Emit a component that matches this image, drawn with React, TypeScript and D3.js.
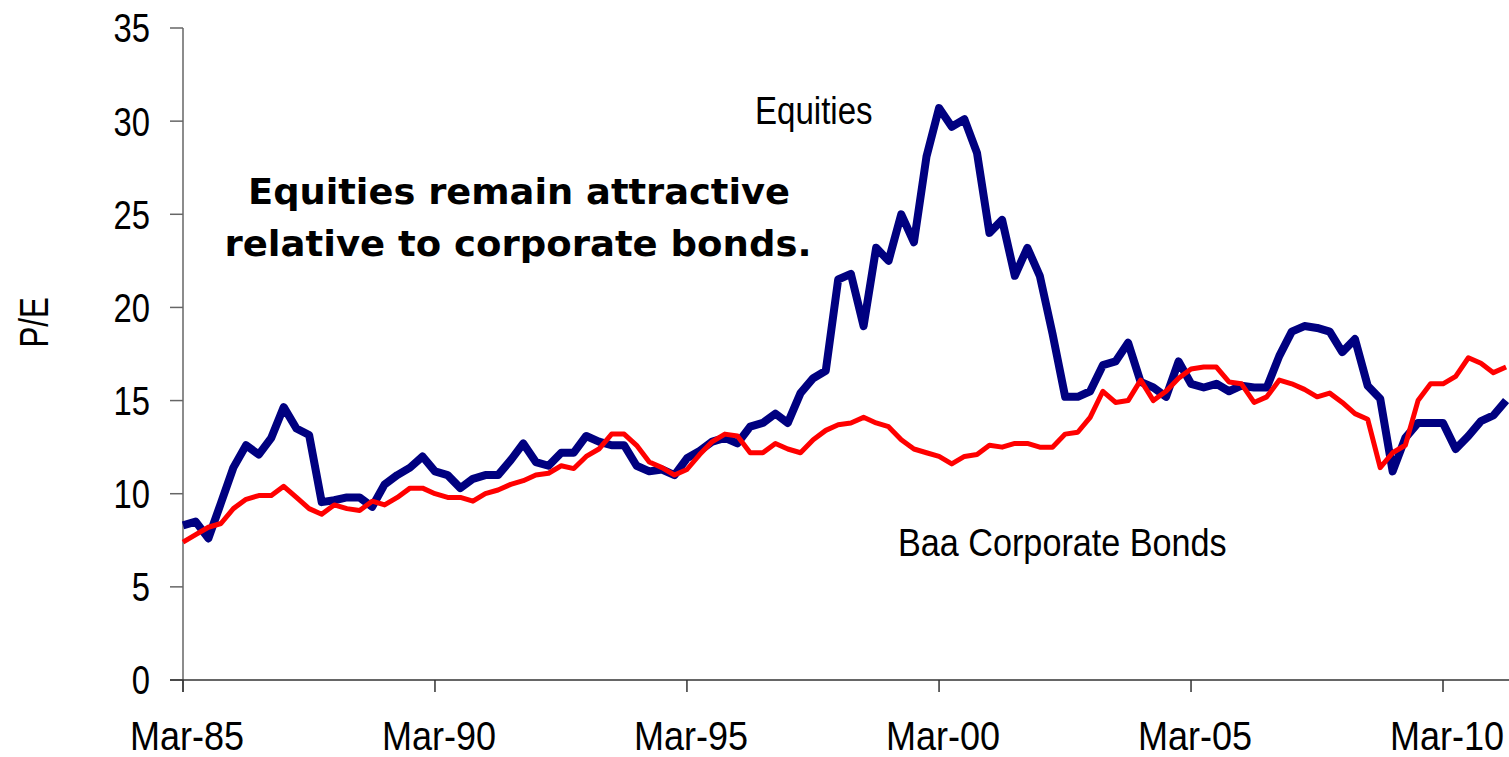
import React, { useEffect, useRef } from 'react';
import * as d3 from 'd3';

// quarterly P/E from Mar-85
const equities = [
  8.3, 8.5, 7.6, 9.5, 11.4, 12.6, 12.1, 13.0, 14.65, 13.5,
  13.15, 9.55, 9.65, 9.8, 9.8, 9.3, 10.5, 11.0, 11.4, 12.0,
  11.2, 11.0, 10.3, 10.8, 11.0, 11.0, 11.8, 12.7, 11.7, 11.5,
  12.2, 12.2, 13.1, 12.8, 12.6, 12.6, 11.5, 11.2, 11.3, 11.0,
  11.9, 12.3, 12.8, 13.0, 12.7, 13.6, 13.8, 14.3, 13.8, 15.4,
  16.2, 16.6, 21.5, 21.8, 19.0, 23.2, 22.5, 25.0, 23.5, 28.1,
  30.7, 29.7, 30.1, 28.3, 24.0, 24.7, 21.7, 23.2, 21.7, 18.6,
  15.2, 15.2, 15.5, 16.9, 17.1, 18.1, 16.0, 15.7, 15.2, 17.1,
  15.9, 15.7, 15.9, 15.5, 15.8, 15.7, 15.7, 17.4, 18.7, 19.0,
  18.9, 18.7, 17.6, 18.3, 15.8, 15.1, 11.2, 13.0, 13.8, 13.8,
  13.8, 12.4, 13.1, 13.9, 14.2, 15.0,
];

const bonds = [
  7.4, 7.8, 8.2, 8.4, 9.2, 9.7, 9.9, 9.9, 10.4, 9.8,
  9.2, 8.9, 9.4, 9.2, 9.1, 9.6, 9.4, 9.8, 10.3, 10.3,
  10.0, 9.8, 9.8, 9.6, 10.0, 10.2, 10.5, 10.7, 11.0, 11.1,
  11.5, 11.35, 12.0, 12.4, 13.2, 13.2, 12.6, 11.7, 11.4, 11.0,
  11.3, 12.1, 12.8, 13.2, 13.1, 12.2, 12.2, 12.7, 12.4, 12.2,
  12.9, 13.4, 13.7, 13.8, 14.1, 13.8, 13.6, 12.9, 12.4, 12.2,
  12.0, 11.6, 12.0, 12.1, 12.6, 12.5, 12.7, 12.7, 12.5, 12.5,
  13.2, 13.3, 14.1, 15.5, 14.9, 15.0, 16.1, 15.0, 15.5, 16.2,
  16.7, 16.8, 16.8, 16.0, 15.9, 14.9, 15.2, 16.1, 15.9, 15.6,
  15.2, 15.4, 14.9, 14.3, 14.0, 11.4, 12.2, 12.6, 15.0, 15.9,
  15.9, 16.3, 17.3, 17.0, 16.5, 16.8,
];

const yTicks = [0, 5, 10, 15, 20, 25, 30, 35];
const xTickYears = [1985, 1990, 1995, 2000, 2005, 2010];

// no narrow font installed, so squeeze Liberation Sans horizontally
const labelFont = '"Liberation Sans Narrow", "Arial Narrow", "Liberation Sans", Arial, sans-serif';

const App = () => {
  const ref = useRef(null);

  useEffect(() => {
    document.body.style.margin = '0';
    const width = 1509;
    const height = 757;

    const dates = equities.map((_, i) => new Date(1985, 2 + i * 3, 1));

    const x = d3.scaleTime()
      .domain([new Date(1985, 2, 1), new Date(2010, 2, 1)])
      .range([183, 1443]);
    const y = d3.scaleLinear().domain([0, 35]).range([680, 28]);

    const svg = d3.create('svg')
      .attr('width', width)
      .attr('height', height)
      .style('display', 'block')
      .style('background', '#fff');

    // y axis
    svg.append('line')
      .attr('x1', 183).attr('x2', 183)
      .attr('y1', y(35)).attr('y2', 692)
      .attr('stroke', '#666').attr('stroke-width', 1.5);
    svg.append('g').selectAll('line')
      .data(yTicks)
      .join('line')
      .attr('x1', 170).attr('x2', 183)
      .attr('y1', d => y(d)).attr('y2', d => y(d))
      .attr('stroke', '#666').attr('stroke-width', 1.5);
    svg.append('g').selectAll('text')
      .data(yTicks)
      .join('text')
      .attr('transform', d => `translate(150,${y(d)}) scale(0.82,1)`)
      .attr('dy', '0.36em')
      .attr('text-anchor', 'end')
      .attr('font-family', labelFont)
      .attr('font-size', 40)
      .attr('fill', '#000')
      .text(d => d);

    // x axis
    svg.append('line')
      .attr('x1', 170).attr('x2', width)
      .attr('y1', 680).attr('y2', 680)
      .attr('stroke', '#333').attr('stroke-width', 1.5);
    const xTicks = xTickYears.map(yr => new Date(yr, 2, 1));
    svg.append('g').selectAll('line')
      .data(xTicks)
      .join('line')
      .attr('x1', d => x(d)).attr('x2', d => x(d))
      .attr('y1', 680).attr('y2', 692)
      .attr('stroke', '#333').attr('stroke-width', 1.5);
    const fmt = d3.timeFormat('%b-%y');
    svg.append('g').selectAll('text')
      .data(xTicks)
      .join('text')
      .attr('transform', d => `translate(${x(d) + 4},750) scale(0.9,1)`)
      .attr('text-anchor', 'middle')
      .attr('font-family', labelFont)
      .attr('font-size', 40)
      .text(d => fmt(d));

    // y title
    svg.append('text')
      .attr('transform', `translate(48,${y(19.2)}) rotate(-90) scale(0.78,1)`)
      .attr('text-anchor', 'middle')
      .attr('font-family', labelFont)
      .attr('font-size', 40)
      .text('P/E');

    const line = d3.line()
      .x((d, i) => x(dates[i]))
      .y(d => y(d));

    svg.append('path')
      .datum(equities)
      .attr('fill', 'none')
      .attr('stroke', '#000080')
      .attr('stroke-width', 8)
      .attr('stroke-linejoin', 'round')
      .attr('d', line);

    svg.append('path')
      .datum(bonds)
      .attr('fill', 'none')
      .attr('stroke', '#ff0000')
      .attr('stroke-width', 5)
      .attr('stroke-linejoin', 'round')
      .attr('d', line);

    // series labels
    svg.append('text')
      .attr('transform', 'translate(755,124) scale(0.87,1)')
      .attr('font-family', labelFont)
      .attr('font-size', 38)
      .text('Equities');
    svg.append('text')
      .attr('transform', 'translate(898,556) scale(0.9,1)')
      .attr('font-family', labelFont)
      .attr('font-size', 38)
      .text('Baa Corporate Bonds');

    // annotation
    const note = svg.append('g')
      .attr('font-family', '"Comic Sans MS", "DejaVu Sans", sans-serif')
      .attr('font-weight', 'bold')
      .attr('font-size', 36)
      .attr('text-anchor', 'middle');
    note.append('text')
      .attr('x', 519).attr('y', 204)
      .attr('textLength', 542)
      .attr('lengthAdjust', 'spacingAndGlyphs')
      .text('Equities remain attractive');
    note.append('text')
      .attr('x', 518).attr('y', 256)
      .attr('textLength', 587)
      .attr('lengthAdjust', 'spacingAndGlyphs')
      .text('relative to corporate bonds.');

    ref.current.innerHTML = '';
    ref.current.appendChild(svg.node());
  }, []);

  return <div ref={ref}></div>;
};

export default App;
